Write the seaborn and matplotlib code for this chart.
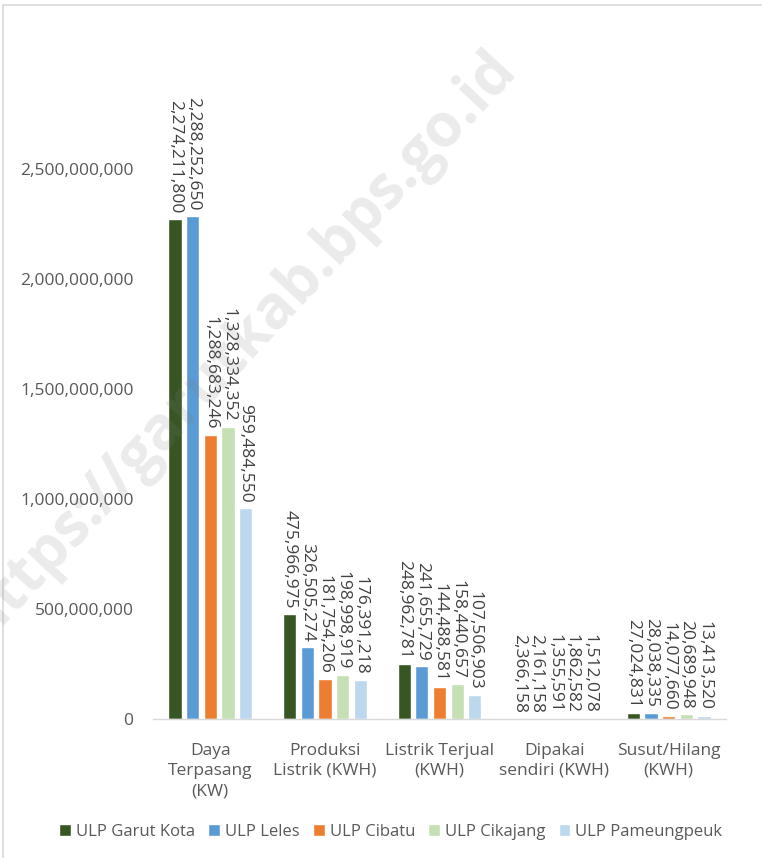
import pandas as pd
import seaborn as sns
import matplotlib.pyplot as plt
from matplotlib.lines import Line2D

# Data
categories = ['Daya\nTerpasang\n(KW)', 'Produksi\nListrik (KWH)', 'Listrik Terjual\n(KWH)',
              'Dipakai\nsendiri (KWH)', 'Susut/Hilang\n(KWH)']
units = ['ULP Garut Kota', 'ULP Leles', 'ULP Cibatu', 'ULP Cikajang', 'ULP Pameungpeuk']

garut_kota = [2274211800, 475966975, 248962781, 2366158, 27024831]
leles = [2288252650, 326505274, 241655729, 2161158, 28038335]
cibatu = [1288683246, 181754206, 144488581, 1355591, 14077660]
cikajang = [1328334352, 198998919, 158440657, 1862582, 20689948]
pameungpeuk = [959484550, 176391218, 107506903, 1512078, 13413520]

colors = ['#375623', '#5B9BD5', '#ED7D31', '#C5E0B4', '#BDD7EE']

rows = []
for unit, vals in zip(units, [garut_kota, leles, cibatu, cikajang, pameungpeuk]):
    for cat, v in zip(categories, vals):
        rows.append({'Kategori': cat, 'ULP': unit, 'Nilai': v})
df = pd.DataFrame(rows)

# Setting up plot
sns.set_style('white')
plt.rcParams['font.family'] = ['Open Sans', 'DejaVu Sans']

fig = plt.figure(figsize=(7.62, 8.58), dpi=100)
ax = fig.add_axes([153 / 762, 1 - 719 / 858, 573 / 762, 649 / 858])

sns.barplot(data=df, x='Kategori', y='Nilai', hue='ULP', hue_order=units,
            order=categories, palette=colors, width=0.77, gap=0.25,
            saturation=1, ax=ax, legend=True)

# Data labels
for cont, vals in zip(ax.containers, [garut_kota, leles, cibatu, cikajang, pameungpeuk]):
    ax.bar_label(cont, labels=[f'{v:,}' for v in vals], rotation=270,
                 padding=4, fontsize=12.5, color='#404040')

ax.set_ylim(0, 2.95e9)
ax.set_yticks([0, 5e8, 1e9, 1.5e9, 2e9, 2.5e9])
ax.yaxis.set_major_formatter(plt.FuncFormatter(lambda v, p: f'{int(v):,}'))
ax.set_xlabel('')
ax.set_ylabel('')
ax.tick_params(axis='both', length=0, labelsize=12.5, labelcolor='#595959')
ax.tick_params(axis='y', pad=14)
ax.tick_params(axis='x', pad=17)
for lbl in ax.get_xticklabels():
    lbl.set_linespacing(1.35)

for side in ['top', 'right', 'left']:
    ax.spines[side].set_visible(False)
ax.spines['bottom'].set_color('#d9d9d9')
ax.spines['bottom'].set_linewidth(1)

# Legend
sns.move_legend(ax, 'center', bbox_to_anchor=(0.415, -0.174), ncol=5,
                frameon=False, title=None, fontsize=12, handlelength=0.7,
                handleheight=0.7, handletextpad=0.3, columnspacing=0.8)
for t in ax.get_legend().get_texts():
    t.set_color('#595959')

# Chart border
fig.add_artist(Line2D([3 / 762, 3 / 762, 1], [0, 1 - 5 / 858, 1 - 5 / 858],
                      transform=fig.transFigure, color='#d9d9d9', lw=1.2))

# Watermark
fig.text(240 / 762, 1 - 345 / 858, 'https://garutkab.bps.go.id', rotation=47,
         fontsize=43, fontweight='bold', color='#808080', alpha=0.16,
         ha='center', va='center', rotation_mode='anchor')

fig.savefig('out.png', dpi=100)
